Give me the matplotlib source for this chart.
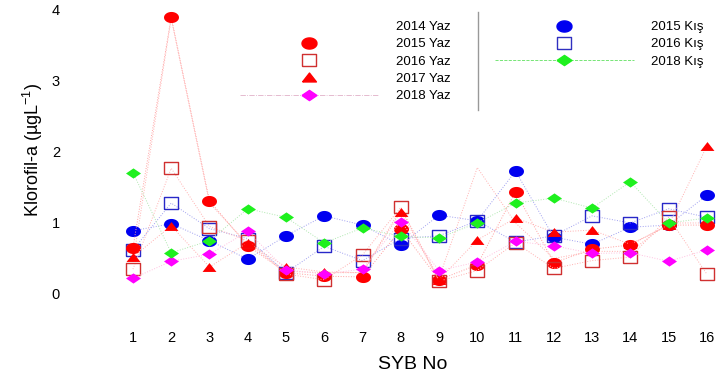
import numpy as np
import matplotlib
matplotlib.use("Agg")
import matplotlib.pyplot as plt
from matplotlib.lines import Line2D

plt.rcParams["font.family"] = ["Liberation Sans", "DejaVu Sans"]
plt.rcParams["mathtext.fontset"] = "custom"
plt.rcParams["mathtext.rm"] = "Liberation Sans"
plt.rcParams["mathtext.it"] = "Liberation Sans"

stations = list(range(1, 17))

yaz_2014 = [0.45, 3.88, 1.28, 0.70, 0.32, 0.30, 0.30, 1.20, 0.22, 1.78, 1.00, 0.50, 0.60, 0.60, 1.00, 1.00]
yaz_2015 = [0.65, 3.90, 1.31, 0.68, 0.30, 0.25, 0.24, 0.91, 0.20, 0.41, 1.44, 0.44, 0.63, 0.69, 0.97, 0.97]
yaz_2016 = [0.35, 1.77, 0.95, 0.75, 0.28, 0.20, 0.55, 1.22, 0.18, 0.33, 0.72, 0.36, 0.47, 0.52, 1.08, 0.28]
yaz_2017 = [0.52, 0.96, 0.38, 0.72, 0.38, 0.31, 0.30, 1.16, 0.20, 0.76, 1.07, 0.87, 0.90, 0.70, 0.97, 2.08]
yaz_2018 = [0.22, 0.46, 0.56, 0.88, 0.34, 0.28, 0.35, 1.02, 0.33, 0.45, 0.74, 0.68, 0.57, 0.58, 0.46, 0.62]
kis_2015 = [0.89, 0.99, 0.75, 0.49, 0.82, 1.10, 0.97, 0.69, 1.11, 1.03, 1.73, 0.80, 0.70, 0.94, 0.97, 1.39]
kis_2016 = [0.62, 1.28, 0.92, 0.78, 0.30, 0.67, 0.47, 0.78, 0.82, 1.03, 0.73, 0.82, 1.10, 1.00, 1.20, 1.08]
kis_2018 = [1.71, 0.58, 0.75, 1.20, 1.08, 0.72, 0.93, 0.81, 0.79, 1.00, 1.28, 1.35, 1.21, 1.58, 1.00, 1.07]

# wide marker shapes (the original image is stretched horizontally)
t = np.linspace(0, 2 * np.pi, 41)
m_circle = np.column_stack([np.cos(t), 0.74 * np.sin(t)])
m_diamond = np.array([[-1, 0], [0, 0.68], [1, 0], [0, -0.68], [-1, 0]])
m_triangle = np.array([[-1, -0.64], [1, -0.64], [0, 0.64], [-1, -0.64]])
m_square = np.array([[-1, -0.8], [1, -0.8], [1, 0.8], [-1, 0.8], [-1, -0.8]])

RED = "#FF0000"
BLUE = "#0000F0"
GREEN = "#1EF01E"
MAGENTA = "#FF00FF"

fig = plt.figure(figsize=(7.16, 3.78), dpi=100)
ax = fig.add_axes([110 / 716, 1 - 300 / 378, 606 / 716, 300 / 378])

line_kw = dict(linestyle=":", linewidth=0.7)

# 2014 Yaz: line only
ax.plot(stations, yaz_2014, color="#FFB0B0", marker=None, **line_kw)

ax.plot(stations, kis_2015, color="#A0A0F0", marker=m_circle, markersize=10.8,
        markerfacecolor=BLUE, markeredgecolor=BLUE, markeredgewidth=0, **line_kw)
ax.plot(stations, kis_2016, color="#A0A0F0", marker=m_square, markersize=10.0,
        markerfacecolor="none", markeredgecolor="#2828C8", markeredgewidth=1.0, **line_kw)
ax.plot(stations, yaz_2015, color="#FFA0A0", marker=m_circle, markersize=10.8,
        markerfacecolor=RED, markeredgecolor=RED, markeredgewidth=0, **line_kw)
ax.plot(stations, yaz_2016, color="#FFB0B0", marker=m_square, markersize=10.0,
        markerfacecolor="none", markeredgecolor="#D03030", markeredgewidth=1.0, **line_kw)
ax.plot(stations, yaz_2017, color="#FFB0B0", marker=m_triangle, markersize=10.0,
        markerfacecolor=RED, markeredgecolor=RED, markeredgewidth=0, **line_kw)
ax.plot(stations, yaz_2018, color="#FFC0E0", marker=m_diamond, markersize=10.8,
        markerfacecolor=MAGENTA, markeredgecolor=MAGENTA, markeredgewidth=0, **line_kw)
ax.plot(stations, kis_2018, color="#B0E8B0", marker=m_diamond, markersize=10.8,
        markerfacecolor=GREEN, markeredgecolor=GREEN, markeredgewidth=0, **line_kw)

ax.set_xlim(0.40, 16.24)
ax.set_ylim(-0.085, 4.14)
ax.set_xticks(stations)
ax.set_yticks([0, 1, 2, 3, 4])
ax.tick_params(axis="x", length=0, pad=22, labelsize=10.5)
ax.tick_params(axis="y", length=0, pad=36, labelsize=10.5)
for s in ax.spines.values():
    s.set_visible(False)
ax.set_xlabel("SYB No", fontsize=14, labelpad=8)
ax.set_ylabel("Klorofil-a (µgL$^{-1}$)", fontsize=13, labelpad=5)

# legend
left_handles = [
    Line2D([], [], linestyle="none", marker=None),
    Line2D([], [], linestyle="none", marker=m_circle, markersize=10.8, color=RED),
    Line2D([], [], linestyle="none", marker=m_square, markersize=10.0,
           markerfacecolor="none", markeredgecolor="#D03030", markeredgewidth=1.0),
    Line2D([], [], linestyle="none", marker=m_triangle, markersize=10.0, color=RED),
    Line2D([], [], linestyle="-.", linewidth=0.6, color="#E0B0C8", marker=m_diamond,
           markersize=10.8, markerfacecolor=MAGENTA, markeredgecolor=MAGENTA),
]
left_labels = ["2014 Yaz", "2015 Yaz", "2016 Yaz", "2017 Yaz", "2018 Yaz"]
right_handles = [
    Line2D([], [], linestyle="none", marker=m_circle, markersize=10.8, color=BLUE),
    Line2D([], [], linestyle="none", marker=m_square, markersize=10.0,
           markerfacecolor="none", markeredgecolor="#3030C0", markeredgewidth=1.0),
    Line2D([], [], linestyle="--", linewidth=0.6, color="#60E060", marker=m_diamond,
           markersize=10.8, markerfacecolor=GREEN, markeredgecolor=GREEN),
]
right_labels = ["2015 Kış", "2016 Kış", "2018 Kış"]

leg_kw = dict(frameon=False, fontsize=9.5, handlelength=10.5, handletextpad=1.3,
              labelspacing=0.38, borderpad=0, borderaxespad=0, loc="upper left")
fig.legend(left_handles, left_labels, bbox_to_anchor=(240 / 716, 1 - 21 / 378), **leg_kw)
fig.legend(right_handles, right_labels, bbox_to_anchor=(495 / 716, 1 - 21 / 378), **leg_kw)

# divider between the two legend columns
fig.add_artist(Line2D([478 / 716, 478 / 716], [1 - 12 / 378, 1 - 110 / 378],
                      color="#999999", linewidth=1.0, transform=fig.transFigure))

fig.savefig("out.png", dpi=100)
